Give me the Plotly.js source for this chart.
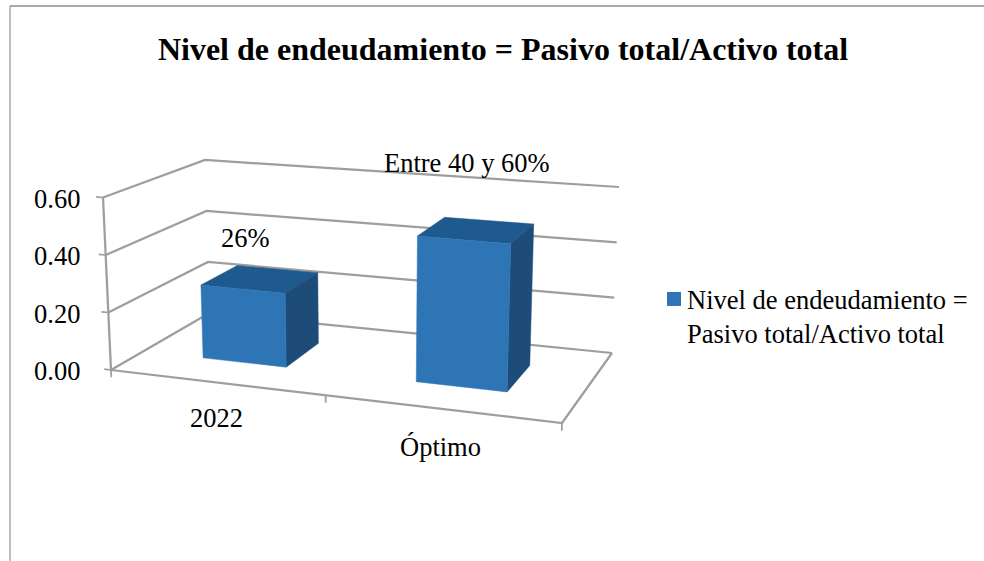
<!DOCTYPE html>
<html>
<head>
<meta charset="utf-8">
<script src="https://cdn.plot.ly/plotly-3.0.1.min.js"></script>
<style>html,body{margin:0;padding:0;background:#fff}#chart{width:984px;height:561px}</style>
</head>
<body>
<div id="chart"></div>
<script>
// ---- data ----
const categories = ['2022', 'Óptimo'];
const values = [0.26, 0.50];
const dataLabels = ['26%', 'Entre 40 y 60%'];
const valueTicks = [0, 0.2, 0.4, 0.6];
const seriesName = 'Nivel de endeudamiento =<br>Pasivo total/Activo total';
const chartTitle = 'Nivel de endeudamiento = Pasivo total/Activo total';

// ---- view of the 3D box (screen position of its eight corners) ----
const maxValue = 0.6;
const floorCorners = {a: [111, 370], b: [562, 423], c: [612, 353], d: [209.5, 313]};
const topCorners = {a: [103, 197.5], b: [568, 236], c: [619, 187], d: [205, 160]};
const barSpans = [[0.137, 0.328], [0.627, 0.836]];
const barDepth = [0.33, 0.72];
const FONT = 'Liberation Serif, Times New Roman, serif';
const GRID = '#9e9e9e';
const TEXT_SIZE = 26.5;

function bilinear(q, u, v) {
  return [0, 1].map(i =>
    (1 - u) * (1 - v) * q.a[i] + u * (1 - v) * q.b[i] + u * v * q.c[i] + (1 - u) * v * q.d[i]);
}
function project(u, v, val) {
  const p0 = bilinear(floorCorners, u, v), p1 = bilinear(topCorners, u, v);
  const t = val / maxValue;
  return [p0[0] + (p1[0] - p0[0]) * t, p0[1] + (p1[1] - p0[1]) * t];
}
function path(points, extra) {
  const pts = points.map(p => project(p[0], p[1], p[2]));
  return Object.assign({x: pts.map(p => p[0]), y: pts.map(p => p[1]), hoverinfo: 'skip', showlegend: false}, extra);
}
const gridStyle = {mode: 'lines', line: {color: GRID, width: 2.25}};
const tickStyle = {mode: 'lines', line: {color: GRID, width: 1.75}};

const traces = [];
// walls and floor
valueTicks.forEach(h => {
  traces.push(path([[0, 0, h], [0, 1, h], [1, 1, h]], gridStyle));
  traces.push(path([[-0.015, 0, h], [0, 0, h]], tickStyle));
});
traces.push(path([[0, 0, 0], [0, 0, maxValue]], gridStyle));
traces.push(path([[0, 0, 0], [1, 0, 0], [1, 1, 0]], gridStyle));
[0, 0.476, 1].forEach(u => traces.push(path([[u, 0, 0], [u, 0, -0.025]], tickStyle)));

// bars
values.forEach((val, i) => {
  const [u0, u1] = barSpans[i];
  const [v0, v1] = barDepth;
  const face = (color, pts) => path(pts.concat([pts[0]]), {
    mode: 'lines', fill: 'toself', fillcolor: color, line: {color: color, width: 0.5}
  });
  traces.push(face('#1f5a8f', [[u0, v0, val], [u1, v0, val], [u1, v1, val], [u0, v1, val]]));
  traces.push(face('#1d4c79', [[u1, v0, 0], [u1, v1, 0], [u1, v1, val], [u1, v0, val]]));
  traces.push(face('#2e75b6', [[u0, v0, 0], [u1, v0, 0], [u1, v0, val], [u0, v0, val]]));
});

// legend entry
traces.push({
  x: [null], y: [null], type: 'scatter', mode: 'markers', name: seriesName,
  marker: {symbol: 'square', size: 14, color: '#2e75b6'}, hoverinfo: 'skip', showlegend: true
});

const annotation = (text, x, y, anchor) => ({
  text, x, y, xref: 'x', yref: 'y', xanchor: anchor || 'center', yanchor: 'middle',
  showarrow: false, font: {family: FONT, size: TEXT_SIZE, color: '#000'}
});
const annotations = [];
valueTicks.forEach(h => {
  annotations.push(annotation(h.toFixed(2), 82, project(0, 0, h)[1] + 1, 'right'));
});
const categoryAt = [[216, 418], [440, 447]];
categories.forEach((c, i) => annotations.push(annotation(c, categoryAt[i][0], categoryAt[i][1])));
const labelAt = [[245, 238], [467, 163]];
dataLabels.forEach((t, i) => annotations.push(annotation(t, labelAt[i][0], labelAt[i][1])));

const layout = {
  width: 984, height: 561,
  margin: {l: 0, r: 0, t: 0, b: 0},
  paper_bgcolor: '#fff', plot_bgcolor: '#fff',
  title: {
    text: '<b>' + chartTitle + '</b>', x: 503 / 984, xanchor: 'center',
    y: 1 - 49 / 561, yanchor: 'middle',
    font: {family: FONT, size: 32, color: '#000'}
  },
  xaxis: {range: [0, 984], visible: false, fixedrange: true},
  yaxis: {range: [561, 0], visible: false, fixedrange: true},
  legend: {
    x: 647 / 984, y: 1 - 275 / 561, xanchor: 'left', yanchor: 'top',
    font: {family: FONT, size: TEXT_SIZE, color: '#000'}, bgcolor: 'rgba(0,0,0,0)', itemwidth: 30
  },
  showlegend: true,
  annotations,
  shapes: [
    {type: 'line', xref: 'x', yref: 'y', x0: 10, y0: 6, x1: 984, y1: 6, line: {color: '#8c8c8c', width: 1.5}},
    {type: 'line', xref: 'x', yref: 'y', x0: 10, y0: 6, x1: 10, y1: 561, line: {color: '#a8a8a8', width: 1.5}}
  ]
};
Plotly.newPlot('chart', traces, layout, {displayModeBar: false, staticPlot: true}).then(gd => {
  // the reference puts the legend square against the first text line
  const sym = gd.querySelector('.legend .legendsymbols');
  if (sym) sym.setAttribute('transform', 'translate(7,-17)');
});
</script>
</body>
</html>
